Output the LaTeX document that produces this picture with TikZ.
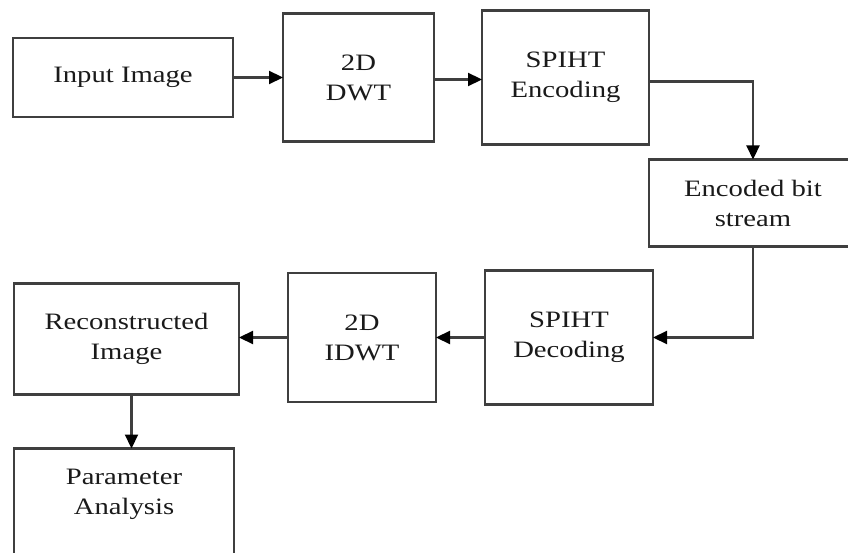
\documentclass[tikz,border=0pt]{standalone}
\usepackage{xcolor}
\usepackage{fontspec}
\setmainfont[FakeStretch=1.22]{Liberation Serif}
\usepackage{tikz}
\usetikzlibrary{arrows.meta,positioning}
\definecolor{ink}{HTML}{1A1A1A}
\definecolor{edge}{HTML}{3F3F3F}
\tikzset{
  box/.style  ={draw=edge, line width=2.3pt, align=center, inner sep=0pt, outer sep=0pt,
                font=\fontsize{23.5pt}{30pt}\selectfont, text=ink},
  flow/.style ={-{Triangle[length=14pt,width=13pt,fill=black,color=black]}, line width=2.2pt, draw=edge},
}
\begin{document}
\begin{tikzpicture}[node distance=48pt and 48pt]
  \useasboundingbox (0,0) rectangle (848pt,-553pt);
  \clip (0,0) rectangle (848pt,-553pt);
  % top row
  \node[box, minimum width=220pt, minimum height=79pt, anchor=north west] (inp) at (13pt,-38pt) {Input Image};
  \node[box, minimum width=151pt, minimum height=128pt, right=50pt of inp] (dwt) {2D\\DWT};
  \node[box, minimum width=167pt, minimum height=134pt, right=48pt of dwt] (enc) {SPIHT\\Encoding};
  \node[box, minimum width=208pt, minimum height=87pt, below=15pt of enc.south east, anchor=north west] (ebs) {Encoded bit\\stream};
  % bottom row
  \node[box, minimum width=168pt, minimum height=134pt, below=24pt of ebs.south west, anchor=north east, xshift=4pt] (dec) {SPIHT\\Decoding};
  \node[box, minimum width=148pt, minimum height=129pt, left=49pt of dec] (idwt) {2D\\IDWT};
  \node[box, minimum width=225pt, minimum height=111pt, left=49pt of idwt, yshift=-1.5pt] (rec) {Reconstructed\\Image};
  \node[box, minimum width=220pt, minimum height=130pt, below=54pt of rec.south west, anchor=north west,
        label={[box, draw=none, anchor=north, yshift=-21pt]north:{Parameter\\Analysis}}] (par) {};
  % links
  \draw[flow] (inp.east) -- (inp.east -| dwt.west);
  \draw[flow] ([yshift=-2pt]dwt.east) -- ([yshift=-2pt]dwt.east -| enc.west);
  \draw[flow] ([yshift=-4pt]enc.east) -| (ebs.north);
  \draw[flow] (ebs.south) |- (dec.east);
  \draw[flow] (dec.west) -- (dec.west -| idwt.east);
  \draw[flow] (idwt.west) -- (idwt.west -| rec.east);
  \draw[flow] ([xshift=5pt]rec.south) -- ([xshift=5pt]rec.south |- par.north);
\end{tikzpicture}
\end{document}
